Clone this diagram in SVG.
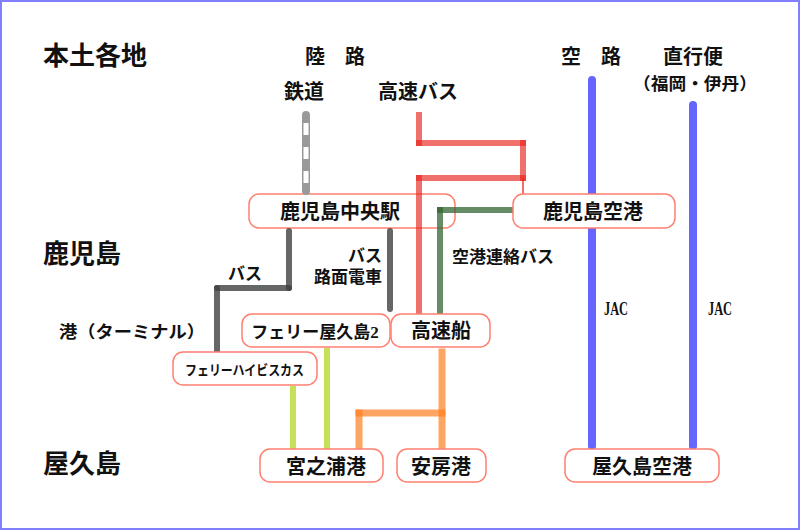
<svg xmlns="http://www.w3.org/2000/svg" width="800" height="530" viewBox="0 0 800 530">
<style>
text{font-family:"Liberation Serif","Noto Sans CJK JP",serif;font-weight:bold;fill:#111}
.big{font-size:26px}
.m{font-size:20px}
.s{font-size:17px}
.box{fill:#fff;stroke:#ff8070;stroke-width:1.5}
.red{stroke:#e8241c;stroke-opacity:.65;stroke-width:6;stroke-linecap:square;fill:none}
.grn{stroke:#336633;stroke-opacity:.75;stroke-width:6;stroke-linecap:square;fill:none}
.gry{stroke:#404040;stroke-opacity:.8;stroke-width:6;stroke-linecap:round;fill:none}
.org{stroke:#ff7f1f;stroke-opacity:.7;stroke-width:7;stroke-linecap:square;fill:none}
.ylw{stroke:#b8d830;stroke-opacity:.8;stroke-width:6;fill:none}
.blu{stroke:#6666ff;stroke-width:8;stroke-linecap:round;fill:none}
</style>
<rect x="1" y="1" width="798" height="528" fill="#fff" stroke="#7f7fff" stroke-width="2"/>
<g id="labels">
<text class="big" x="43" y="65">本土各地</text>
<text class="big" x="43" y="263">鹿児島</text>
<text class="big" x="43" y="473">屋久島</text>
<text class="s" x="59" y="338" font-size="18" textLength="146" lengthAdjust="spacingAndGlyphs">港（ターミナル）</text>
<text class="m" x="305" y="64" font-size="19">陸　路</text>
<text class="m" x="284" y="99">鉄道</text>
<text class="m" x="378" y="99">高速バス</text>
<text class="m" x="561" y="64">空　路</text>
<text class="m" x="663" y="64">直行便</text>
<text class="s" x="633" y="90" font-size="18" textLength="124" lengthAdjust="spacingAndGlyphs">（福岡・伊丹）</text>
<text class="s" x="452" y="263">空港連絡バス</text>
<text class="s" x="228" y="280">バス</text>
<text class="s" x="382" y="262" text-anchor="end">バス</text>
<text class="s" x="382" y="283" text-anchor="end" font-size="18">路面電車</text>
<text x="604" y="315" font-size="18" textLength="24" lengthAdjust="spacingAndGlyphs">JAC</text>
<text x="708" y="315" font-size="18" textLength="24" lengthAdjust="spacingAndGlyphs">JAC</text>
</g>
<g id="kagoshima-chuo"><rect class="box" x="249" y="194" width="206" height="34" rx="10"/><text class="m" x="340" y="219" text-anchor="middle">鹿児島中央駅</text></g>
<g id="connectors">
<line x1="306" y1="115" x2="306" y2="191" stroke="#999" stroke-width="8" stroke-linecap="round"/>
<line x1="306" y1="123" x2="306" y2="186" stroke="#fff" stroke-width="5" stroke-dasharray="12 12"/>
<line class="red" x1="419" y1="115" x2="419" y2="143"/>
<line class="red" x1="419" y1="143" x2="523" y2="143"/>
<line class="red" x1="523" y1="143" x2="523" y2="178"/>
<line class="red" x1="523" y1="178" x2="419" y2="178"/>
<line class="red" x1="419" y1="178" x2="419" y2="312"/>
<line x1="523" y1="178" x2="523" y2="195" stroke="#e8241c" stroke-opacity=".65" stroke-width="2"/>
<line class="grn" x1="513" y1="210" x2="440" y2="210"/>
<line class="grn" x1="440" y1="210" x2="440" y2="312"/>
<line class="gry" x1="289" y1="231" x2="289" y2="288"/>
<line class="gry" x1="289" y1="288" x2="217" y2="288"/>
<line class="gry" x1="217" y1="288" x2="217" y2="351" stroke-linecap="butt"/>
<line class="gry" x1="390" y1="231" x2="390" y2="309"/>
<line class="ylw" x1="293" y1="386" x2="293" y2="450"/>
<line class="ylw" x1="327" y1="348" x2="327" y2="450"/>
<line class="org" x1="442" y1="352" x2="442" y2="447"/>
<line class="org" x1="442" y1="413" x2="359" y2="413"/>
<line class="org" x1="359" y1="413" x2="359" y2="447"/>
<line class="blu" x1="592" y1="80" x2="592" y2="446"/>
<line class="blu" x1="693" y1="105" x2="693" y2="446"/>
</g>
<g id="kagoshima-airport"><rect class="box" x="513" y="194" width="162" height="34" rx="10"/><text class="m" x="593" y="219" text-anchor="middle">鹿児島空港</text></g>
<g id="ferry-yakushima2"><rect class="box" x="242" y="314" width="148" height="33" rx="10"/><text class="s" x="315" y="338" text-anchor="middle">フェリー屋久島2</text></g>
<g id="kousokusen"><rect class="box" x="391" y="314" width="99" height="33" rx="10"/><text class="m" x="441" y="338" text-anchor="middle">高速船</text></g>
<g id="ferry-hibiscus"><rect class="box" x="173" y="352" width="144" height="33" rx="10"/><text x="185" y="375" font-size="14" textLength="119" lengthAdjust="spacingAndGlyphs">フェリーハイビスカス</text></g>
<g id="miyanoura"><rect class="box" x="260" y="449" width="123" height="33" rx="10"/><text class="m" x="326" y="474" text-anchor="middle">宮之浦港</text></g>
<g id="anbou"><rect class="box" x="397" y="449" width="89" height="33" rx="10"/><text class="m" x="441" y="474" text-anchor="middle">安房港</text></g>
<g id="yakushima-airport"><rect class="box" x="565" y="449" width="154" height="33" rx="10"/><text class="m" x="642" y="474" text-anchor="middle">屋久島空港</text></g>
</svg>
